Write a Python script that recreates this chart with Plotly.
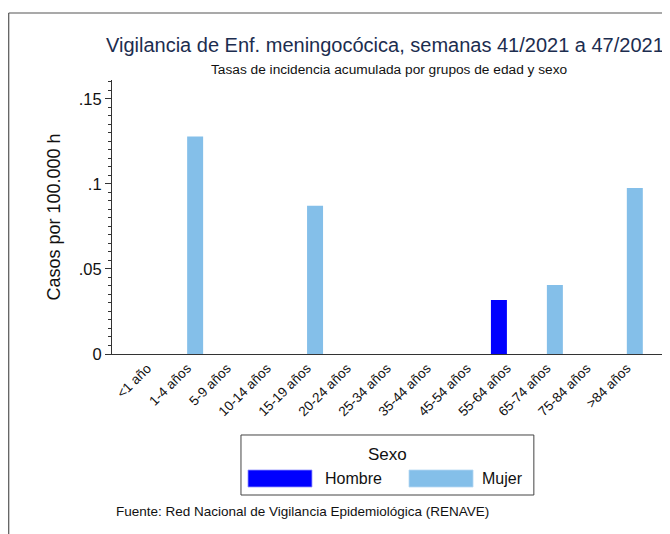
import plotly.graph_objects as go

# age groups on the x axis
grupos_edad = ["<1 año", "1-4 años", "5-9 años", "10-14 años", "15-19 años",
               "20-24 años", "25-34 años", "35-44 años", "45-54 años",
               "55-64 años", "65-74 años", "75-84 años", ">84 años"]

# incidence rate per 100.000 inhabitants
tasa_hombre = [0, 0, 0, 0, 0, 0, 0, 0, 0, 0.0318, 0, 0, 0]
tasa_mujer = [0, 0.1278, 0, 0, 0.0871, 0, 0, 0, 0, 0, 0.0406, 0, 0.0975]

sexos = ["Hombre", "Mujer"]
colores = ["#0000FF", "#84BFE9"]
bordes = ["#9090FF", "#B5D8F2"]

tick_vals = [0, 0.05, 0.1, 0.15]
tick_text = ["0", ".05", ".1", ".15"]

FONT = "Liberation Sans, Arial, sans-serif"

fig = go.Figure()
for sexo, valores, color in zip(sexos, [tasa_hombre, tasa_mujer], colores):
    fig.add_trace(go.Bar(
        x=grupos_edad,
        y=valores,
        name=sexo,
        marker=dict(color=color, line=dict(width=0)),
        showlegend=False,
    ))

# the page adds an 8px body margin, so the figure is laid out 8px up/left
fig.update_layout(
    width=670,
    height=534,
    margin=dict(l=104, r=16, t=72, b=188),
    paper_bgcolor="white",
    plot_bgcolor="white",
    barmode="group",
    bargap=0.2,
    bargroupgap=0,
    font=dict(family=FONT, color="#111"),
    xaxis=dict(
        range=[-0.88, 12.88],
        tickangle=-45,
        tickfont=dict(size=13.5),
        showline=True, linecolor="#333", linewidth=1.2,
        ticks="", showgrid=False,
    ),
    yaxis=dict(
        range=[0, 0.161],
        tickvals=tick_vals,
        ticktext=tick_text,
        tickfont=dict(size=16.5),
        ticks="outside", ticklen=6, tickcolor="#333",
        ticklabelstandoff=0,
        minor=dict(dtick=0.005, ticks="outside", ticklen=3, tickcolor="#333"),
        showline=True, linecolor="#333", linewidth=1.2,
        showgrid=False, zeroline=False,
        title=dict(text="Casos por 100.000 h", font=dict(size=18), standoff=13),
    ),
)

# outer frame (top and left edges visible)
fig.add_shape(type="line", xref="paper", yref="paper",
              x0=-0.1878, x1=1.05, y0=1.2445, y1=1.2445,
              line=dict(color="#555", width=1.2))
fig.add_shape(type="line", xref="paper", yref="paper",
              x0=-0.1878, x1=-0.1878, y0=1.2445, y1=-0.7,
              line=dict(color="#555", width=1.2))

fig.add_annotation(text="Vigilancia de Enf. meningocócica, semanas 41/2021 a 47/2021",
                   xref="paper", yref="paper", x=0.497, y=1.1277, yanchor="middle",
                   showarrow=False, font=dict(size=20, color="#1C2D4F"))
fig.add_annotation(text="Tasas de incidencia acumulada por grupos de edad y sexo",
                   xref="paper", yref="paper", x=0.503, y=1.0365, yanchor="middle",
                   showarrow=False, font=dict(size=13.7, color="#111"))

# legend box drawn by hand for wide swatches
fig.add_shape(type="rect", xref="paper", yref="paper",
              x0=0.2345, x1=0.767, y0=-0.2956, y1=-0.5146,
              line=dict(color="#444", width=1), fillcolor="white")
fig.add_annotation(text="Sexo", xref="paper", yref="paper", x=0.5, y=-0.3686,
                   yanchor="middle", showarrow=False, font=dict(size=17))
sw_x = [(0.2473, 0.3636), (0.54, 0.6564)]
txt_pos = [(0.3836, "left"), (0.7509, "right")]
for sexo, color, borde, (x0, x1), (tx, anc) in zip(sexos, colores, bordes, sw_x, txt_pos):
    fig.add_shape(type="rect", xref="paper", yref="paper",
                  x0=x0, x1=x1, y0=-0.4234, y1=-0.4854,
                  fillcolor=color, line=dict(color=borde, width=0.8))
    fig.add_annotation(text=sexo, xref="paper", yref="paper", x=tx, y=-0.4526,
                       xanchor=anc, yanchor="middle", showarrow=False,
                       font=dict(size=16))

fig.add_annotation(text="Fuente: Red Nacional de Vigilancia Epidemiológica (RENAVE)",
                   xref="paper", yref="paper", x=0.0036, y=-0.5766,
                   xanchor="left", yanchor="middle", showarrow=False,
                   font=dict(size=13.5))

fig.write_html("out.html")
